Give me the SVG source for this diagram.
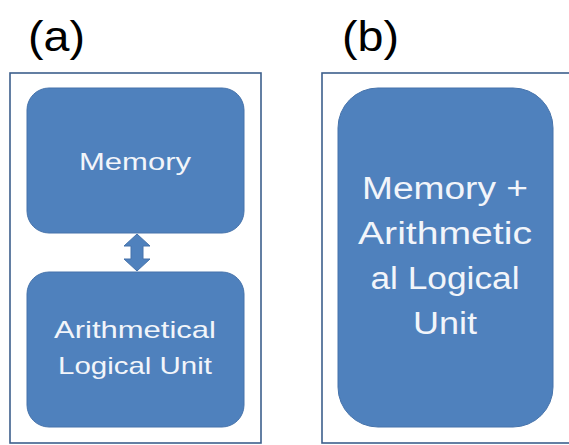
<svg xmlns="http://www.w3.org/2000/svg" width="569" height="445" viewBox="0 0 569 445">
<style>
.frame{fill:#ffffff;stroke:#3d5f8c;stroke-width:1.6}
.box{fill:#4f81bd;stroke:#4673ab;stroke-width:1}
.lbl{font-family:"Liberation Sans",Arial,sans-serif;fill:#000000;font-size:42px}
.t{font-family:"Liberation Sans",Arial,sans-serif;fill:#f2f5fa;text-anchor:middle}
.s{font-size:24px}
.b{font-size:31px}
</style>
<rect width="569" height="445" fill="#ffffff"/>
<text class="lbl" x="28" y="51" textLength="57" lengthAdjust="spacingAndGlyphs">(a)</text>
<text class="lbl" x="342" y="51" textLength="57" lengthAdjust="spacingAndGlyphs">(b)</text>
<g id="panel-a">
<rect class="frame" x="10" y="73" width="251" height="370"/>
</g>
<g id="panel-b">
<rect class="frame" x="322" y="73" width="250" height="370"/>
</g>
<g id="memory">
<rect class="box" x="27" y="88" width="217" height="145" rx="22"/>
<text class="t s" x="135" y="170" textLength="112" lengthAdjust="spacingAndGlyphs">Memory</text>
</g>
<g id="alu">
<rect class="box" x="27" y="272" width="217" height="155" rx="22"/>
<text class="t s" x="135" y="338" textLength="162" lengthAdjust="spacingAndGlyphs">Arithmetical</text>
<text class="t s" x="135" y="374" textLength="154" lengthAdjust="spacingAndGlyphs">Logical Unit</text>
</g>
<g id="memory-alu">
<rect class="box" x="338" y="88" width="215" height="339" rx="40"/>
<text class="t b" x="445" y="199" textLength="166" lengthAdjust="spacingAndGlyphs">Memory +</text>
<text class="t b" x="445" y="244" textLength="174" lengthAdjust="spacingAndGlyphs">Arithmetic</text>
<text class="t b" x="445" y="289" textLength="149" lengthAdjust="spacingAndGlyphs">al Logical</text>
<text class="t b" x="445" y="334" textLength="64" lengthAdjust="spacingAndGlyphs">Unit</text>
</g>
<g id="connectors">
<polygon class="box" points="137,234 150,246 143,246 143,259 150,259 137,271 124,259 131,259 131,246 124,246"/>
</g>
</svg>
